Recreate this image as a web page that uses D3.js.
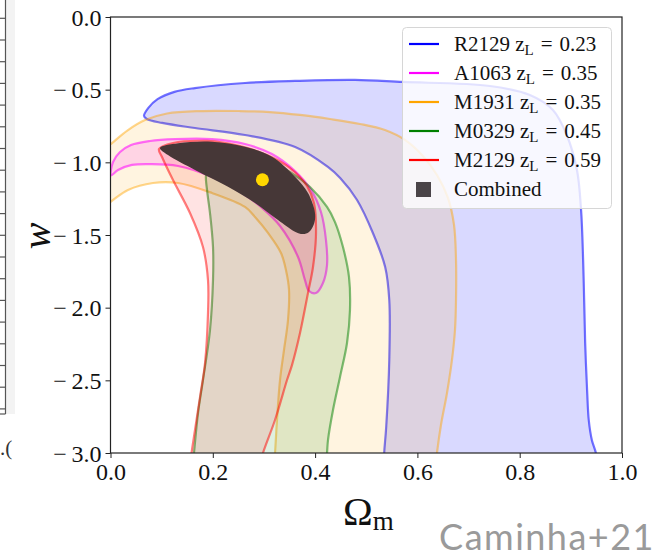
<!DOCTYPE html>
<html>
<head>
<meta charset="utf-8">
<script src="https://cdn.jsdelivr.net/npm/d3@7"></script>
<style>
  html, body { margin: 0; padding: 0; background: #fff; }
  svg { display: block; }
</style>
</head>
<body>
<svg id="chart" width="665" height="558"></svg>
<script>
// Axis ticks
const omegaTicks = [0, 0.2, 0.4, 0.6, 0.8, 1.0];
const wTicks = [0, -0.5, -1.0, -1.5, -2.0, -2.5, -3.0];

// Lens clusters and their redshifts
const clusters = ["R2129", "A1063", "M1931", "M0329", "M2129"];
const redshifts = [0.23, 0.35, 0.35, 0.45, 0.59];
const clusterColors = ["#0000ff", "#ff00ff", "#ffa500", "#008000", "#ff0000"];

// Confidence contours in the (Omega_m, w) plane, one closed outline per cluster
const contourR2129 = [
  [0.0655,-0.681],[0.074,-0.625],[0.092,-0.565],[0.125,-0.515],[0.165,-0.489],[0.263,-0.454],
  [0.361,-0.440],[0.478,-0.433],[0.572,-0.447],[0.742,-0.475],[0.820,-0.537],[0.865,-0.640],
  [0.892,-0.812],[0.912,-1.053],[0.920,-1.328],[0.924,-1.672],[0.926,-1.947],[0.928,-2.243],
  [0.932,-2.587],[0.935,-2.773],[0.941,-2.910],[0.949,-3.000],[0.955,-3.15],[0.533,-3.15],
  [0.535,-3.000],[0.539,-2.821],[0.545,-2.360],[0.545,-1.947],[0.537,-1.720],[0.513,-1.486],
  [0.482,-1.259],[0.449,-1.108],[0.425,-1.032],[0.361,-0.895],[0.263,-0.812],[0.165,-0.764],
  [0.101,-0.729],[0.071,-0.702]
];
const contourA1063 = [
  [0.001,-1.090],[0.0049,-0.998],[0.0186,-0.929],[0.0401,-0.881],[0.0772,-0.853],[0.1261,-0.840],
  [0.1984,-0.840],[0.2629,-0.874],[0.3157,-0.943],[0.3607,-1.060],[0.3920,-1.190],[0.4115,-1.342],
  [0.4213,-1.535],[0.4233,-1.707],[0.4154,-1.830],[0.4018,-1.899],[0.3881,-1.885],[0.3802,-1.810],
  [0.3666,-1.651],[0.3314,-1.438],[0.2962,-1.314],[0.2629,-1.225],[0.1984,-1.101],[0.1320,-1.025],
  [0.0772,-1.012],[0.0420,-1.018],[0.0147,-1.053]
];
const contourM1931 = [
  [-0.040,-1.060],[-0.0205,-0.936],[0.0023,-0.869],[0.0342,-0.778],[0.0675,-0.709],[0.1105,-0.664],
  [0.1750,-0.647],[0.2532,-0.647],[0.3118,-0.654],[0.3705,-0.674],[0.4291,-0.702],[0.4878,-0.736],
  [0.5366,-0.778],[0.5757,-0.846],[0.6090,-0.950],[0.6383,-1.087],[0.6598,-1.245],[0.6716,-1.431],
  [0.6755,-1.672],[0.6755,-1.947],[0.6735,-2.154],[0.6676,-2.360],[0.6579,-2.587],[0.6461,-2.807],
  [0.6383,-3.000],[0.634,-3.15],[0.318,-3.15],[0.3216,-3.000],[0.3255,-2.773],[0.3314,-2.498],
  [0.3392,-2.291],[0.3470,-2.085],[0.3490,-1.879],[0.343,-1.741],[0.3333,-1.624],[0.3079,-1.486],
  [0.2825,-1.376],[0.2629,-1.307],[0.1984,-1.211],[0.1320,-1.142],[0.0831,-1.142],[0.0342,-1.190],
  [0.0023,-1.266],[-0.0205,-1.321],[-0.040,-1.200]
];
const contourM0329 = [
  [0.1867,-1.087],[0.1945,-1.005],[0.2180,-0.977],[0.2395,-0.977],[0.3060,-0.998],[0.3509,-1.067],
  [0.3900,-1.170],[0.4233,-1.307],[0.4389,-1.411],[0.4545,-1.583],[0.4663,-1.789],[0.4682,-2.016],
  [0.4624,-2.243],[0.4487,-2.477],[0.4350,-2.704],[0.4252,-2.911],[0.4233,-3.000],[0.419,-3.15],
  [0.159,-3.15],[0.1632,-3.000],[0.1711,-2.725],[0.1808,-2.498],[0.1945,-2.154],[0.2004,-1.810],
  [0.2004,-1.583],[0.1945,-1.349],[0.1887,-1.190]
];
const contourM2129 = [
  [0.0948,-0.908],[0.1222,-0.867],[0.1887,-0.853],[0.2532,-0.888],[0.3060,-0.950],[0.3509,-1.039],
  [0.3842,-1.163],[0.3978,-1.280],[0.4018,-1.486],[0.3959,-1.720],[0.3861,-1.899],[0.3705,-2.174],
  [0.3548,-2.395],[0.3451,-2.498],[0.3216,-2.773],[0.2981,-3.000],[0.286,-3.15],[0.153,-3.15],
  [0.1584,-3.000],[0.1652,-2.842],[0.1750,-2.615],[0.1848,-2.381],[0.1906,-2.037],[0.1906,-1.810],
  [0.1808,-1.583],[0.1554,-1.349],[0.1222,-1.122],[0.1007,-0.963]
];
const contourCombined = [
  [0.0968,-0.901],[0.1320,-0.869],[0.1984,-0.858],[0.2629,-0.893],[0.3157,-0.961],[0.3607,-1.099],
  [0.3861,-1.211],[0.3998,-1.349],[0.3978,-1.424],[0.3881,-1.479],[0.3763,-1.493],[0.3607,-1.477],
  [0.3275,-1.397],[0.2825,-1.280],[0.2297,-1.168],[0.1652,-1.053],[0.1124,-0.950]
];
const bestFit = [0.297, -1.12];

const contours = [contourR2129, contourA1063, contourM1931, contourM0329, contourM2129];
const fillOpacity = [0.15, 0.13, 0.12, 0.12, 0.11];
const strokeOpacity = [0.55, 0.55, 0.45, 0.5, 0.5];
const drawOrder = [0, 2, 1, 3, 4];

const svg = d3.select("#chart");
const serif = "'Liberation Serif', 'DejaVu Serif', serif";

const x = d3.scaleLinear().domain([0, 1]).range([110.5, 622]);
const y = d3.scaleLinear().domain([-3, 0]).range([453, 17]);

svg.append("defs").append("clipPath").attr("id", "plotClip")
  .append("rect")
  .attr("x", x(0)).attr("y", y(0))
  .attr("width", x(1) - x(0)).attr("height", y(-3) - y(0));

// Edge of the neighbouring panel on the left
const strip = svg.append("g").attr("class", "side-strip");
strip.append("rect").attr("x", 6).attr("y", 0).attr("width", 9).attr("height", 414).attr("fill", "#f3f3f3");
strip.append("line").attr("x1", 5.5).attr("x2", 5.5).attr("y1", 0).attr("y2", 414)
  .attr("stroke", "#555").attr("stroke-width", 1.2);
strip.selectAll("line.st").data(d3.range(0, 19)).join("line").attr("class", "st")
  .attr("x1", 0).attr("x2", 5.5)
  .attr("y1", k => 18.3 + k * 21.7).attr("y2", k => 18.3 + k * 21.7)
  .attr("stroke", "#555").attr("stroke-width", 1.2);
strip.append("line").attr("x1", 0).attr("x2", 5.5).attr("y1", 414).attr("y2", 414)
  .attr("stroke", "#555").attr("stroke-width", 1.2);
strip.append("text")
  .attr("x", 0).attr("y", 455)
  .attr("font-family", serif).attr("font-size", 21).attr("fill", "#333")
  .text(".(");

// Contours
const line = d3.line().x(d => x(d[0])).y(d => y(d[1])).curve(d3.curveCatmullRomClosed.alpha(0.5));
const plot = svg.append("g").attr("clip-path", "url(#plotClip)");

drawOrder.forEach(i => {
  plot.append("path")
    .attr("d", line(contours[i]))
    .attr("fill", clusterColors[i]).attr("fill-opacity", fillOpacity[i])
    .attr("stroke", clusterColors[i]).attr("stroke-opacity", strokeOpacity[i])
    .attr("stroke-width", 2.2).attr("stroke-linejoin", "round");
});

plot.append("path")
  .attr("d", line(contourCombined))
  .attr("fill", "#463737");

plot.append("circle")
  .attr("cx", x(bestFit[0])).attr("cy", y(bestFit[1])).attr("r", 6.5)
  .attr("fill", "#ffd700");

// Axes
const fmt = v => (v < 0 ? "\u2212\u2009" : "") + d3.format(".1f")(Math.abs(v));
const xAxis = svg.append("g").attr("transform", `translate(0,${y(-3)})`)
  .call(d3.axisBottom(x).tickValues(omegaTicks).tickFormat(fmt).tickSize(5).tickPadding(4));
const yAxis = svg.append("g").attr("transform", `translate(${x(0)},0)`)
  .call(d3.axisLeft(y).tickValues(wTicks).tickFormat(fmt).tickSize(5).tickPadding(4));
[xAxis, yAxis].forEach(a => {
  a.selectAll("text").attr("font-family", serif).attr("font-size", 24).attr("fill", "#111");
  a.selectAll(".tick line").attr("stroke", "#222").attr("stroke-width", 1);
  a.select(".domain").remove();
});
xAxis.selectAll("text").attr("dy", "0.75em");
yAxis.selectAll("text").attr("dy", "0.34em");

svg.append("rect")
  .attr("x", x(0)).attr("y", y(0))
  .attr("width", x(1) - x(0)).attr("height", y(-3) - y(0))
  .attr("fill", "none").attr("stroke", "#222").attr("stroke-width", 1.2);

// Axis labels
const xl = svg.append("text")
  .attr("x", 343).attr("y", 525)
  .attr("font-family", serif).attr("font-size", 40).attr("fill", "#111");
xl.append("tspan").text("Ω");
xl.append("tspan").attr("font-size", 27).attr("dy", 5).text("m");

svg.append("text")
  .attr("transform", "translate(50,236) rotate(-90)")
  .attr("text-anchor", "middle")
  .attr("font-family", serif).attr("font-style", "italic").attr("font-size", 40).attr("fill", "#111")
  .text("w");

// Legend
const legend = svg.append("g");
legend.append("rect")
  .attr("x", 402.5).attr("y", 27.5).attr("width", 209).attr("height", 181).attr("rx", 4)
  .attr("fill", "#fff").attr("fill-opacity", 0.8)
  .attr("stroke", "#d6d6d6").attr("stroke-width", 1);

clusters.forEach((name, i) => {
  const ry = 44 + i * 29;
  legend.append("line")
    .attr("x1", 409).attr("x2", 439).attr("y1", ry).attr("y2", ry)
    .attr("stroke", clusterColors[i]).attr("stroke-width", 2.2);
  const t = legend.append("text")
    .attr("x", 454).attr("y", ry + 7)
    .attr("font-family", serif).attr("font-size", 21).attr("fill", "#111");
  t.append("tspan").text(name + " z");
  t.append("tspan").attr("font-size", 15).attr("dy", 4).text("L");
  t.append("tspan").attr("dy", -4).attr("dx", 7).text("=");
  t.append("tspan").attr("dx", 7).text(redshifts[i].toFixed(2));
});
legend.append("rect")
  .attr("x", 416).attr("y", 182).attr("width", 15).attr("height", 15)
  .attr("fill", "#4a4448");
legend.append("text")
  .attr("x", 454).attr("y", 196)
  .attr("font-family", serif).attr("font-size", 21).attr("fill", "#111")
  .text("Combined");

// Credit
svg.append("text")
  .attr("x", 655).attr("y", 550).attr("text-anchor", "end")
  .attr("font-family", "Lato, 'Open Sans', sans-serif").attr("font-size", 36)
  .attr("letter-spacing", 1.5).attr("fill", "#9a9a9a")
  .text("Caminha+21");
</script>
</body>
</html>
